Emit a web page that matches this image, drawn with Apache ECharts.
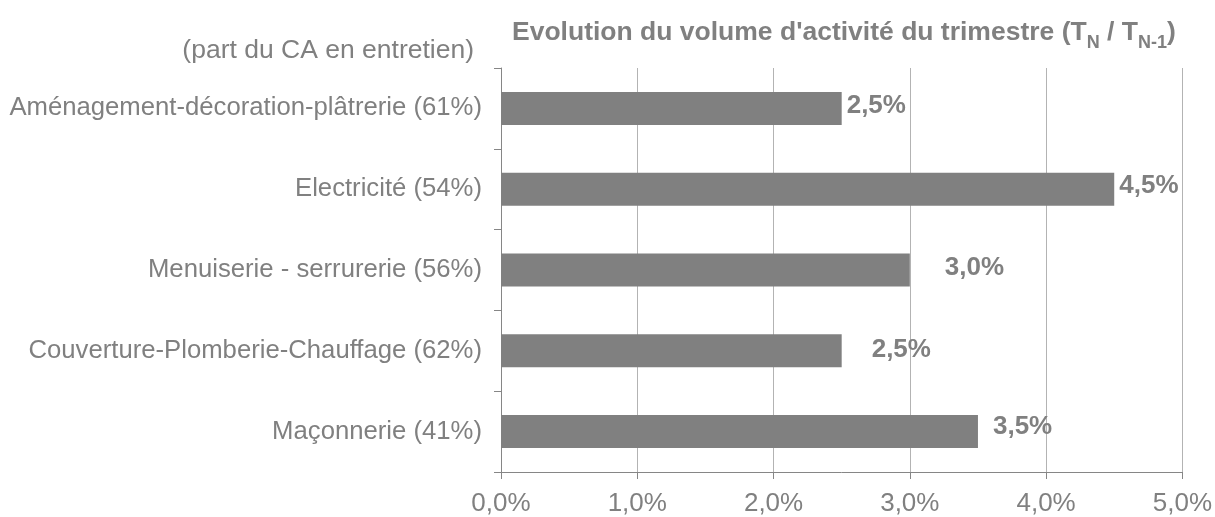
<!DOCTYPE html>
<html>
<head>
<meta charset="utf-8">
<script src="https://cdn.jsdelivr.net/npm/echarts@6/dist/echarts.min.js"></script>
<style>
html,body{margin:0;padding:0;background:#fff;}
#c{width:1215px;height:517px;}
</style>
</head>
<body>
<div id="c"></div>
<script>
// Data
const categories = [
  "Maçonnerie (41%)",
  "Couverture-Plomberie-Chauffage (62%)",
  "Menuiserie - serrurerie (56%)",
  "Electricité (54%)",
  "Aménagement-décoration-plâtrerie (61%)"
];
const values = [3.5, 2.5, 3.0, 4.5, 2.5];
const xTicks = ["0,0%", "1,0%", "2,0%", "3,0%", "4,0%", "5,0%"];
const subtitleText = "(part du CA en entretien)";

// label placement (style only)
const labelDx = [15, 30, 35, 5, 5];
const labelDy = [-5, -1, -2, -3, -3];

const FONT = "'Liberation Sans', Arial, sans-serif";
const GREY = "#808080";

const chart = echarts.init(document.getElementById('c'));
chart.setOption({
  animation: false,
  textStyle: {fontFamily: FONT},
  title: [{
    text: "{t|Evolution du volume d'activité du trimestre (T}{s|N}{t| / T}{s|N-1}{t|)}",
    left: 512, top: 16, padding: 0,
    textStyle: {
      rich: {
        t: {fontFamily: FONT, fontSize: 26.5, fontWeight: 'bold', color: GREY, lineHeight: 30, verticalAlign: 'bottom'},
        s: {fontFamily: FONT, fontSize: 18, fontWeight: 'bold', color: GREY, lineHeight: 22, verticalAlign: 'bottom', padding: [0,0,-6,0]}
      }
    }
  }, {
    text: subtitleText,
    right: 1215 - 474, top: 37, padding: 0,
    textStyle: {fontFamily: FONT, fontSize: 26.5, fontWeight: 'normal', color: GREY}
  }],
  grid: {left: 501, right: 24, top: 68, bottom: 45, containLabel: false},
  xAxis: {
    type: 'value', min: 0, max: 5, interval: 1,
    axisLine: {show: true, lineStyle: {color: '#868686', width: 1}},
    axisTick: {show: true, inside: false, length: 7, lineStyle: {color: '#868686'}},
    splitLine: {show: true, lineStyle: {color: '#b3b3b3', width: 1}},
    axisLabel: {
      margin: 19, color: GREY, fontSize: 26, fontFamily: FONT,
      formatter: (v) => xTicks[Math.round(v)]
    }
  },
  yAxis: {
    type: 'category', data: categories,
    axisLine: {show: true, lineStyle: {color: '#868686', width: 1}},
    axisTick: {show: true, length: 7, lineStyle: {color: '#868686'}},
    axisLabel: {margin: 19, color: GREY, fontSize: 25.7, fontFamily: FONT}
  },
  series: [{
    type: 'bar',
    barWidth: 33,
    itemStyle: {color: '#808080'},
    data: values.map((v, i) => ({
      value: v,
      label: {
        show: true, position: 'right', distance: labelDx[i], offset: [0, labelDy[i]],
        formatter: (p) => p.value.toFixed(1).replace('.', ',') + '%',
        fontFamily: FONT, fontSize: 26, fontWeight: 'bold', color: GREY
      }
    }))
  }]
});
</script>
</body>
</html>
